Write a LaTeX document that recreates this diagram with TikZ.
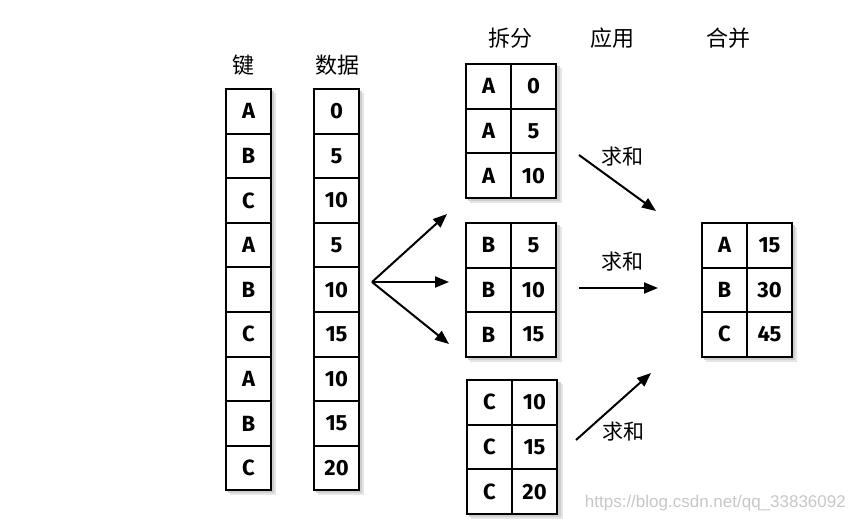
\documentclass[tikz,border=0pt]{standalone}
\usepackage{fontspec}
\setmainfont{Fira Sans}
\newfontfamily\cjk{Noto Sans CJK SC}
\newfontfamily\wmfont{Liberation Sans}
\usetikzlibrary{arrows.meta}
\begin{document}
\begin{tikzpicture}[x=1pt,y=-1pt,
  cell/.style={draw,line width=2pt,minimum width=45pt,minimum height=44.6pt,inner sep=0pt,
    anchor=north west,fill=white,font=\fontsize{22}{22}\selectfont\bfseries},
  head/.style={font=\cjk\fontsize{22}{22}\selectfont},
  lbl/.style={font=\cjk\fontsize{21}{21}\selectfont},
  arr/.style={line width=2pt,-{Triangle[length=14pt,width=11pt]}},
  shad/.style={fill=black!30,opacity=0.6}]
\useasboundingbox (0,0) rectangle (855,527);
% shadows
\foreach \xa/\ya/\xb/\yb in {225/88/270/489, 313/88/358/489, 465/63/556/197, 465/222/556/356, 466/379/557/513, 701/222/791/356}{
  \fill[shad] (\xa+3,\ya+3) rectangle (\xb+4,\yb+4);
  \fill[black!20,opacity=0.5] (\xa+5,\ya+5) rectangle (\xb+6,\yb+6);
}
% headers
\node[head] (hk) at (243,65) {键};
\node[head] (hd) at (337,65) {数据};
\node[head] (hs) at (510,38) {拆分};
\node[head] (ha) at (612,38) {应用};
\node[head] (hc) at (728,38) {合并};
% key and data columns
\foreach \k/\d [count=\i from 0] in {A/0,B/5,C/10,A/5,B/10,C/15,A/10,B/15,C/20}{
  \node[cell] (k\i) at (225,88+44.6*\i) {\k};
  \node[cell] (d\i) at (313,88+44.6*\i) {\d};
}
% split groups
\foreach \g/\top/\xl in {A/63/465,B/222/465,C/379/466}{
  \foreach \v [count=\i from 0] in {0,1,2}{
    \node[cell] (s\g k\i) at (\xl,\top+44.7*\i) {\g};
  }
}
\node[cell] (sAd0) at (510,63) {0};
\node[cell] (sAd1) at (510,107.7) {5};
\node[cell] (sAd2) at (510,152.4) {10};
\node[cell] (sBd0) at (510,222) {5};
\node[cell] (sBd1) at (510,266.7) {10};
\node[cell] (sBd2) at (510,311.4) {15};
\node[cell] (sCd0) at (511,379) {10};
\node[cell] (sCd1) at (511,423.7) {15};
\node[cell] (sCd2) at (511,468.4) {20};
% result
\node[cell] (rk0) at (701,222) {A};
\node[cell] (rd0) at (746,222) {15};
\node[cell] (rk1) at (701,266.5) {B};
\node[cell] (rd1) at (746,266.5) {30};
\node[cell] (rk2) at (701,311) {C};
\node[cell] (rd2) at (746,311) {45};
% split arrows
\coordinate (fork) at (372,282);
\coordinate (t1) at (447,214);
\coordinate (t2) at (449,282);
\coordinate (t3) at (449,344);
\draw[arr] (fork) -- (t1);
\draw[arr] (fork) -- (t2);
\draw[arr] (fork) -- (t3);
% apply arrows
\coordinate (a1s) at (579,155);
\coordinate (a1e) at (656,211);
\coordinate (a2s) at (579,288);
\coordinate (a2e) at (658,288);
\coordinate (a3s) at (576,440);
\coordinate (a3e) at (651,373);
\draw[arr] (a1s) -- (a1e);
\draw[arr] (a2s) -- (a2e);
\draw[arr] (a3s) -- (a3e);
\node[lbl] (l1) at (622,157) {求和};
\node[lbl] (l2) at (622,262) {求和};
\node[lbl] (l3) at (623,432) {求和};
% watermark
\node[anchor=east,text=black!22,font=\wmfont\fontsize{17}{17}\selectfont,inner sep=0pt] (wm) at (846,503) {https://blog.csdn.net/qq\_33836092};
\end{tikzpicture}
\end{document}
